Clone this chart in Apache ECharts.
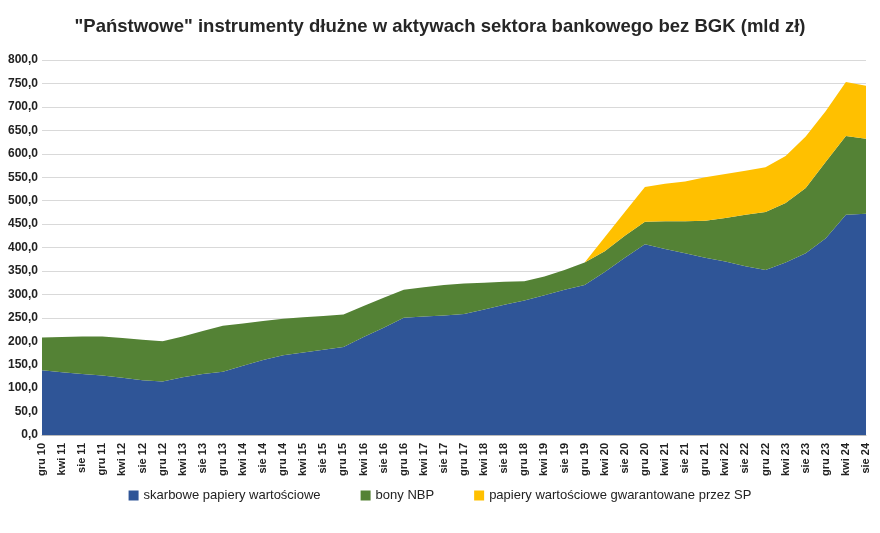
<!DOCTYPE html>
<html><head><meta charset="utf-8">
<script src="https://cdn.jsdelivr.net/npm/echarts@6/dist/echarts.min.js"></script>
<style>html,body{margin:0;padding:0;background:#fff}#c{width:880px;height:533px}</style>
</head><body><div id="c"></div>
<script>
const categories = ['gru 10','kwi 11','sie 11','gru 11','kwi 12','sie 12','gru 12','kwi 13','sie 13','gru 13','kwi 14','sie 14','gru 14','kwi 15','sie 15','gru 15','kwi 16','sie 16','gru 16','kwi 17','sie 17','gru 17','kwi 18','sie 18','gru 18','kwi 19','sie 19','gru 19','kwi 20','sie 20','gru 20','kwi 21','sie 21','gru 21','kwi 22','sie 22','gru 22','kwi 23','sie 23','gru 23','kwi 24','sie 24'];
const skarbowe = [138,134,130,127,122,117,114,123,130,135,148,160,170,176,182,188,209,229,250,253,255,258,268,278,287,298,310,320,348,378,407,397,388,378,370,360,352,368,388,420,470,472];
const bonyNBP = [70,75,80,83,85,86,86,87,92,98,90,83,78,75,72,69,66,64,60,62,65,65,57,49,41,40,42,48,44,47,48,59,68,79,93,110,124,127,139,163,168,160];
const gwarantowane = [0,0,0,0,0,0,0,0,0,0,0,0,0,0,0,0,0,0,0,0,0,0,0,0,0,0,0,0,30,51,74,80,85,93,94,94,95,100,110,108,115,113];
const yTicksFmt = v => v.toFixed(1).replace('.', ',');
const chart = echarts.init(document.getElementById('c'));
const mk = (name, data, color) => ({name, type:'line', stack:'t', data, symbol:'none', lineStyle:{width:0}, areaStyle:{color, opacity:1}, itemStyle:{color}});
chart.setOption({
  animation:false,
  title:{text:'"Państwowe" instrumenty dłużne w aktywach sektora bankowego bez BGK (mld zł)', left:'center', top:12, textStyle:{fontFamily:'Liberation Sans', fontSize:18.5, fontWeight:'bold', color:'#262626'}},
  legend:{bottom:26, itemWidth:10, itemHeight:10, icon:'rect', itemGap:40, textStyle:{fontFamily:'Liberation Sans', fontSize:13, color:'#222'}, data:['skarbowe papiery wartościowe','bony NBP','papiery wartościowe gwarantowane przez SP']},
  grid:{left:42, right:14, top:60, bottom:98},
  xAxis:{type:'category', data:categories, boundaryGap:false, axisLine:{lineStyle:{color:'#bbb'}}, axisTick:{show:false},
    axisLabel:{rotate:90, interval:0, fontSize:11, fontWeight:'bold', color:'#222', fontFamily:'Liberation Sans'}},
  yAxis:{type:'value', min:0, max:800, interval:50, axisLabel:{formatter:yTicksFmt, fontSize:12, fontWeight:'bold', color:'#222', fontFamily:'Liberation Sans', margin:4},
    splitLine:{lineStyle:{color:'#d9d9d9'}}},
  series:[mk('skarbowe papiery wartościowe', skarbowe, '#2f5597'), mk('bony NBP', bonyNBP, '#548235'), mk('papiery wartościowe gwarantowane przez SP', gwarantowane, '#ffc000')]
});
</script></body></html>
